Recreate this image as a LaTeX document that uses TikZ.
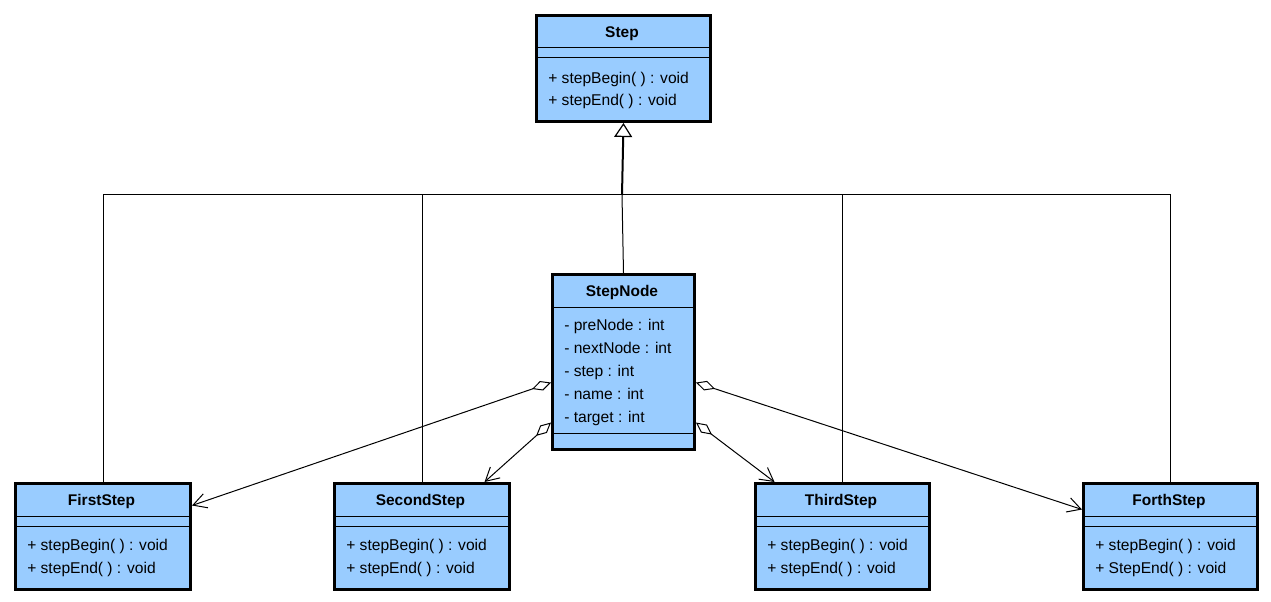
\documentclass[tikz,border=0pt]{standalone}
\usepackage{fontspec}
\setmainfont{Liberation Sans}
\usetikzlibrary{arrows.meta}
\definecolor{classblue}{RGB}{153,204,255}
\begin{document}
\begin{tikzpicture}[x=0.75pt,y=-0.75pt,
  classbox/.style={draw, line width=2.25pt, fill=classblue, inner sep=0pt, anchor=north west},
  ctitle/.style={font=\fontsize{11.6}{13}\selectfont\bfseries, anchor=mid, inner sep=0pt},
  member/.style={font=\fontsize{11.7}{13}\selectfont, anchor=mid west, inner sep=0pt},
  sepline/.style={line width=0.75pt},
  conn/.style={line width=0.75pt},
  aggr/.style={conn, {Diamond[open,fill=white,length=15pt,width=7.5pt]}-{Straight Barb[length=10pt,width=11pt]}}]
\useasboundingbox (0,0) rectangle (1271,602);
\fill[white] (0,0) rectangle (1271,602);

% boxes
\node[classbox, minimum width=174*0.75pt, minimum height=106*0.75pt] (step) at (535,14) {};
\node[classbox, minimum width=142*0.75pt, minimum height=175*0.75pt] (sn) at (551,273) {};
\node[classbox, minimum width=175*0.75pt, minimum height=106*0.75pt] (first) at (14,482) {};
\node[classbox, minimum width=175*0.75pt, minimum height=106*0.75pt] (second) at (333,482) {};
\node[classbox, minimum width=174*0.75pt, minimum height=106*0.75pt] (third) at (754,482) {};
\node[classbox, minimum width=174*0.75pt, minimum height=106*0.75pt] (forth) at (1082,482) {};

% separators
\draw[sepline] (step.west |- 0,48) -- (step.east |- 0,48);
\draw[sepline] (step.west |- 0,58) -- (step.east |- 0,58);
\draw[sepline] (sn.west |- 0,308) -- (sn.east |- 0,308);
\draw[sepline] (sn.west |- 0,433) -- (sn.east |- 0,433);
\foreach \b in {first,second,third,forth}{
  \draw[sepline] (\b.west |- 0,516) -- (\b.east |- 0,516);
  \draw[sepline] (\b.west |- 0,526) -- (\b.east |- 0,526);
}

% texts
\node[ctitle] (step-t) at (622,34) {Step};
\node[member] (step-m1) at (548,80) {+ stepBegin( ) : void};
\node[member] (step-m2) at (548,102) {+ stepEnd( ) : void};

\node[ctitle] (sn-t) at (622,293) {StepNode};
\node[member] (sn-a1) at (564,327) {- preNode : int};
\node[member] (sn-a2) at (564,350) {- nextNode : int};
\node[member] (sn-a3) at (564,373) {- step : int};
\node[member] (sn-a4) at (564,396) {- name : int};
\node[member] (sn-a5) at (564,419) {- target : int};

\node[ctitle] (first-t) at (101.5,502) {FirstStep};
\node[member] (first-m1) at (27,547) {+ stepBegin( ) : void};
\node[member] (first-m2) at (27,570) {+ stepEnd( ) : void};

\node[ctitle] (second-t) at (420.5,502) {SecondStep};
\node[member] (second-m1) at (346,547) {+ stepBegin( ) : void};
\node[member] (second-m2) at (346,570) {+ stepEnd( ) : void};

\node[ctitle] (third-t) at (841,502) {ThirdStep};
\node[member] (third-m1) at (767,547) {+ stepBegin( ) : void};
\node[member] (third-m2) at (767,570) {+ stepEnd( ) : void};

\node[ctitle] (forth-t) at (1169,502) {ForthStep};
\node[member] (forth-m1) at (1095,547) {+ stepBegin( ) : void};
\node[member] (forth-m2) at (1095,570) {+ StepEnd( ) : void};

% generalization
\coordinate (bus) at (622,195);
\draw[conn] (first.north) -- (first.north |- bus) -- (forth.north |- bus) -- (forth.north);
\draw[conn] (second.north) -- (second.north |- bus);
\draw[conn] (third.north) -- (third.north |- bus);
\draw[conn] (sn.north) -- (bus);
\draw[line width=1.5pt, -{Triangle[open,fill=white,length=10.5pt,width=13.5pt,line width=0.9pt]}] (bus) -- (step.south);

% aggregations
\draw[aggr] ([yshift=-15.4pt]sn.west) -- ([yshift=23.25pt]first.east);
\draw[aggr] ([yshift=-45.4pt]sn.west) -- ([xshift=46.9pt]second.north);
\draw[aggr] ([yshift=-15.4pt]sn.east) -- ([yshift=20.25pt]forth.west);
\draw[aggr] ([yshift=-45.4pt]sn.east) -- ([xshift=-51pt]third.north);
\end{tikzpicture}
\end{document}
